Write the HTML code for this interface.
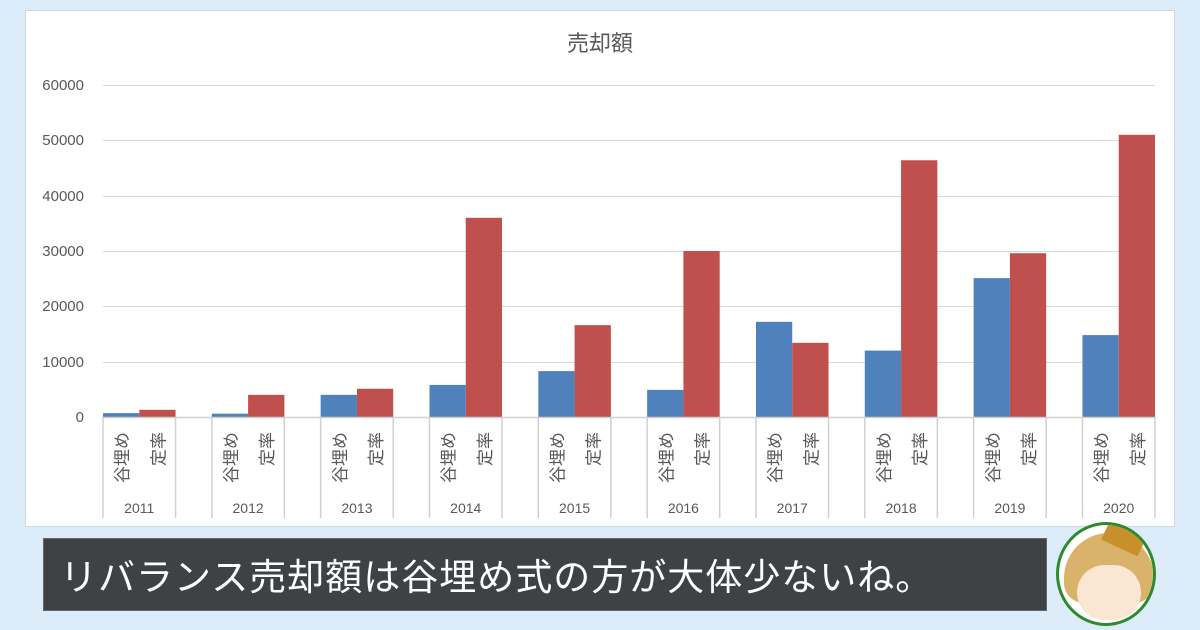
<!DOCTYPE html>
<html><head><meta charset="utf-8"><style>
body{margin:0;width:1200px;height:630px;background:#dcedf9;position:relative;overflow:hidden;font-family:"Liberation Sans","Noto Sans CJK JP",sans-serif}
.panel{position:absolute;left:25px;top:10px;width:1150px;height:517px;background:#fff;border:1px solid #d0d8de;box-sizing:border-box}
.banner{position:absolute;left:43px;top:538px;width:1004px;height:73px;background:#3e4245;border:1px solid #666;box-sizing:border-box;color:#fff;font-size:37px;line-height:71px;padding-left:16px;letter-spacing:1px;font-family:"Noto Sans CJK JP",sans-serif}
.av{position:absolute;left:1056px;top:522px;width:100px;height:104px;border-radius:50%;border:3px solid #2d8a2d;background:#fff;overflow:hidden;box-sizing:border-box}
</style></head><body>
<div class="panel"></div>
<svg width="1200" height="630" style="position:absolute;left:0;top:0">
<text x="600" y="51" font-size="22" fill="#595959" text-anchor="middle" font-family="Noto Sans CJK JP,sans-serif">売却額</text>
<g stroke="#d9d9d9" stroke-width="1">
<line x1="103" x2="1155" y1="85.5" y2="85.5"/><line x1="103" x2="1155" y1="140.5" y2="140.5"/><line x1="103" x2="1155" y1="196.5" y2="196.5"/><line x1="103" x2="1155" y1="251.5" y2="251.5"/><line x1="103" x2="1155" y1="306.5" y2="306.5"/><line x1="103" x2="1155" y1="362.5" y2="362.5"/>
</g>
<g font-size="15" fill="#595959" text-anchor="end" font-family="Liberation Sans,sans-serif">
<text x="84" y="90">60000</text><text x="84" y="145">50000</text><text x="84" y="201">40000</text><text x="84" y="256">30000</text><text x="84" y="311">20000</text><text x="84" y="367">10000</text><text x="84" y="422">0</text>
</g>
<g id="bars"></g>
<g id="ax" stroke="#d0d0d0" stroke-width="1.5"></g>
<g id="lbl" font-size="17" fill="#595959"></g>
</svg>
<div class="banner">リバランス売却額は谷埋め式の方が大体少ないね。</div>
<div class="av">
<div style="position:absolute;left:5px;top:8px;width:90px;height:70px;border-radius:45px 45px 20px 20px;background:#d9b36a"></div>
<div style="position:absolute;left:18px;top:40px;width:64px;height:55px;border-radius:30px;background:#fbe6d4"></div>
<div style="position:absolute;left:45px;top:2px;width:40px;height:22px;background:#c8902a;transform:rotate(25deg)"></div>
</div>
<script>
var b=[700,600,4000,5800,8300,4900,17200,12000,25100,14800],r=[1300,4000,5100,36000,16600,30000,13400,46400,29600,51000];
var w=1052/29,y0=417,k=332/60000,s='',a='',l='';
for(var i=0;i<10;i++){var x=103+3*i*w;
s+='<rect x="'+x+'" y="'+(y0-b[i]*k)+'" width="'+w+'" height="'+b[i]*k+'" fill="#4f81bd"/>';
s+='<rect x="'+(x+w)+'" y="'+(y0-r[i]*k)+'" width="'+w+'" height="'+r[i]*k+'" fill="#c0504d"/>';
a+='<line x1="'+x+'" x2="'+x+'" y1="417" y2="518"/><line x1="'+(x+2*w)+'" x2="'+(x+2*w)+'" y1="417" y2="518"/>';
l+='<text x="'+(x+w)+'" y="513" text-anchor="middle" font-size="14" font-family="Liberation Sans,sans-serif">'+(2011+i)+'</text>';
l+='<text transform="translate('+(x+w/2+7)+',432) rotate(-90)" text-anchor="end" font-family="Noto Sans CJK JP,sans-serif">谷埋め</text>';
l+='<text transform="translate('+(x+1.5*w+7)+',432) rotate(-90)" text-anchor="end" font-family="Noto Sans CJK JP,sans-serif">定率</text>';}
a+='<line x1="103" x2="1155" y1="417.5" y2="417.5"/>';
document.getElementById('bars').innerHTML=s;document.getElementById('ax').innerHTML=a;document.getElementById('lbl').innerHTML=l;
</script>
</body></html>
